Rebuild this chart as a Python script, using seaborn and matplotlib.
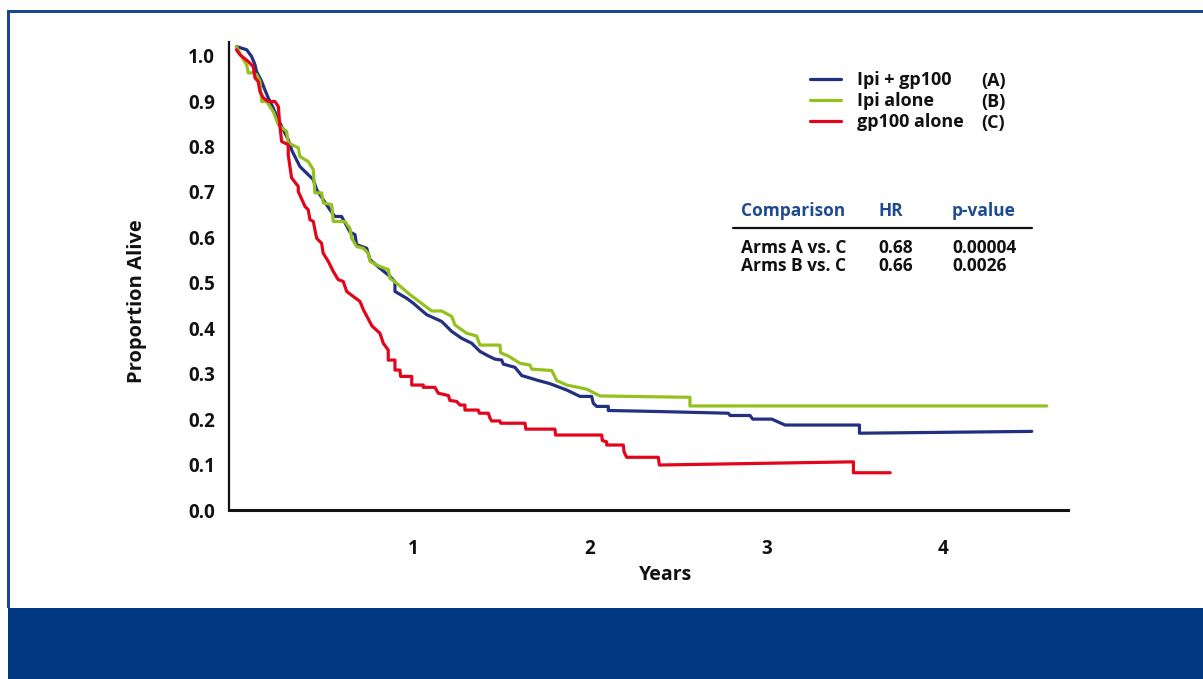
import matplotlib
matplotlib.use("Agg")
import matplotlib.pyplot as plt
import seaborn as sns
import pandas as pd
from matplotlib.patches import Rectangle
from matplotlib.lines import Line2D

# ---------------- data ----------------
arm_labels = ["Ipi + gp100", "Ipi alone", "gp100 alone"]
arm_codes = ["(A)", "(B)", "(C)"]
arm_colors = ["#23307F", "#95C11F", "#E3051B"]

ipi_gp100_years = [0.0, 0.058, 0.086, 0.105, 0.114, 0.143, 0.161, 0.180, 0.208, 0.237, 0.265, 0.293,
                   0.314, 0.359, 0.435, 0.454, 0.491, 0.529, 0.557, 0.595, 0.620, 0.642, 0.671, 0.680,
                   0.737, 0.756, 0.812, 0.869, 0.897, 0.897, 0.963, 1.001, 1.076, 1.161, 1.218, 1.274,
                   1.331, 1.378, 1.425, 1.463, 1.501, 1.510, 1.576, 1.614, 1.699, 1.774, 1.869, 1.944,
                   2.010, 2.019, 2.038, 2.104, 2.104, 2.357, 2.783, 2.793, 2.906, 2.921, 3.029, 3.104,
                   3.525, 3.525, 4.500]
ipi_gp100_surv = [1.020, 1.013, 0.998, 0.980, 0.965, 0.943, 0.925, 0.907, 0.885, 0.859, 0.837, 0.815,
                  0.791, 0.756, 0.727, 0.705, 0.683, 0.661, 0.646, 0.646, 0.628, 0.612, 0.606, 0.584,
                  0.576, 0.551, 0.532, 0.514, 0.502, 0.481, 0.466, 0.455, 0.430, 0.415, 0.393, 0.378,
                  0.367, 0.349, 0.339, 0.332, 0.330, 0.321, 0.314, 0.296, 0.286, 0.278, 0.264, 0.250,
                  0.250, 0.235, 0.228, 0.228, 0.219, 0.217, 0.213, 0.208, 0.208, 0.200, 0.200, 0.187,
                  0.187, 0.169, 0.173]

ipi_alone_years = [0.0, 0.029, 0.058, 0.067, 0.095, 0.114, 0.133, 0.143, 0.171, 0.208, 0.237, 0.284,
                   0.293, 0.350, 0.359, 0.406, 0.435, 0.444, 0.482, 0.491, 0.539, 0.548, 0.614, 0.642,
                   0.652, 0.680, 0.718, 0.746, 0.756, 0.812, 0.859, 0.869, 0.907, 0.982, 1.105, 1.161,
                   1.218, 1.237, 1.303, 1.359, 1.378, 1.491, 1.495, 1.538, 1.604, 1.661, 1.671, 1.784,
                   1.812, 1.869, 1.982, 2.057, 2.566, 2.566, 4.585]
ipi_alone_surv = [1.020, 0.998, 0.980, 0.962, 0.962, 0.958, 0.943, 0.899, 0.899, 0.877, 0.848, 0.833,
                  0.808, 0.797, 0.778, 0.767, 0.749, 0.698, 0.698, 0.676, 0.672, 0.635, 0.635, 0.620,
                  0.598, 0.580, 0.576, 0.565, 0.547, 0.536, 0.529, 0.510, 0.499, 0.474, 0.438, 0.438,
                  0.426, 0.407, 0.389, 0.383, 0.363, 0.363, 0.346, 0.339, 0.323, 0.319, 0.310, 0.307,
                  0.285, 0.275, 0.266, 0.251, 0.248, 0.229, 0.229]

gp100_years = [0.0, 0.020, 0.067, 0.095, 0.105, 0.123, 0.133, 0.152, 0.180, 0.218, 0.237, 0.246,
               0.256, 0.293, 0.293, 0.312, 0.350, 0.350, 0.388, 0.406, 0.416, 0.435, 0.444, 0.454,
               0.482, 0.491, 0.520, 0.548, 0.576, 0.604, 0.624, 0.661, 0.699, 0.718, 0.767, 0.812,
               0.831, 0.859, 0.859, 0.897, 0.897, 0.925, 0.929, 0.992, 0.992, 1.057, 1.057, 1.123,
               1.142, 1.199, 1.208, 1.246, 1.265, 1.293, 1.293, 1.368, 1.374, 1.425, 1.435, 1.444,
               1.491, 1.495, 1.633, 1.637, 1.802, 1.806, 2.067, 2.070, 2.095, 2.095, 2.189, 2.193,
               2.208, 2.387, 2.393, 3.491, 3.491, 3.699]
gp100_surv = [1.013, 1.002, 0.987, 0.976, 0.951, 0.943, 0.921, 0.907, 0.899, 0.899, 0.888, 0.844,
              0.811, 0.804, 0.782, 0.731, 0.712, 0.701, 0.668, 0.661, 0.639, 0.635, 0.617, 0.598,
              0.587, 0.565, 0.547, 0.525, 0.507, 0.503, 0.481, 0.470, 0.459, 0.441, 0.405, 0.389,
              0.367, 0.352, 0.330, 0.330, 0.308, 0.308, 0.294, 0.294, 0.275, 0.275, 0.270, 0.270,
              0.257, 0.252, 0.241, 0.239, 0.231, 0.231, 0.220, 0.220, 0.213, 0.213, 0.202, 0.196,
              0.196, 0.191, 0.191, 0.178, 0.178, 0.165, 0.165, 0.153, 0.150, 0.143, 0.143, 0.128,
              0.116, 0.116, 0.099, 0.106, 0.082, 0.082]

x_ticks = [1, 2, 3, 4]
y_ticks = [0.0, 0.1, 0.2, 0.3, 0.4, 0.5, 0.6, 0.7, 0.8, 0.9, 1.0]
x_label = "Years"
y_label = "Proportion Alive"

table_header = ["Comparison", "HR", "p-value"]
table_rows = [["Arms A vs. C", "0.68", "0.00004"],
              ["Arms B vs. C", "0.66", "0.0026"]]

# ---------------- build long-form frame ----------------
frames = []
for lab, xs, ys in zip(arm_labels,
                       [ipi_gp100_years, ipi_alone_years, gp100_years],
                       [ipi_gp100_surv, ipi_alone_surv, gp100_surv]):
    frames.append(pd.DataFrame({"Years": xs, "Proportion": ys, "Arm": lab}))
df = pd.concat(frames, ignore_index=True)

# ---------------- figure ----------------
sns.set_theme(style="white")
plt.rcParams["font.family"] = ["Open Sans", "DejaVu Sans"]
plt.rcParams["font.weight"] = "bold"

W, H = 1203, 679
fig = plt.figure(figsize=(W / 100, H / 100), dpi=100)
fig.patch.set_facecolor("white")

def fx(px):
    return px / W

def fy(py):
    return 1 - py / H

ax_left, ax_right, ax_top, ax_bot = 229, 1068, 42, 510
ax = fig.add_axes([fx(ax_left), fy(ax_bot), fx(ax_right - ax_left), (ax_bot - ax_top) / H])

sns.lineplot(data=df, x="Years", y="Proportion", hue="Arm", units="Arm",
             hue_order=arm_labels, palette=arm_colors, estimator=None, sort=False,
             linewidth=2.3, ax=ax, legend=True)

ax.set_xlim(-0.042, 4.705)
ax.set_ylim(0, 1.03)
ax.set_xticks(x_ticks)
ax.set_xticklabels([str(t) for t in x_ticks])
ax.set_yticks(y_ticks)
ax.set_yticklabels([f"{t:.1f}" for t in y_ticks])
for s in ["top", "right"]:
    ax.spines[s].set_visible(False)
ax.spines["left"].set_linewidth(1.6)
ax.spines["bottom"].set_linewidth(2.2)
ax.spines["left"].set_color("#111111")
ax.spines["bottom"].set_color("#111111")
ax.tick_params(axis="y", direction="out", length=7, width=1.8, color="#111111",
               labelsize=13.5, pad=3)
ax.tick_params(axis="x", direction="out", length=6, width=1.5, color="#111111",
               labelsize=13.5, pad=15)
for lbl in ax.get_xticklabels() + ax.get_yticklabels():
    lbl.set_fontweight("bold")
    lbl.set_color("#111111")
ax.set_xlabel("")
ax.set_ylabel("")
ax.patch.set_alpha(0)

fig.text(fx(666), fy(575), x_label, ha="center", va="center", fontsize=14,
         fontweight="bold", color="#111111")
fig.text(fx(137), fy(301), y_label, ha="center", va="center", rotation=90,
         fontsize=14.5, fontweight="bold", color="#111111")

# legend
handles, labels = ax.get_legend_handles_labels()
leg = ax.legend(handles, labels, loc="upper left", bbox_to_anchor=(fx(810), fy(71)),
                bbox_transform=fig.transFigure, frameon=False, fontsize=13,
                handlelength=1.7, handletextpad=0.9, labelspacing=0.17,
                borderaxespad=0, borderpad=0)
for t in leg.get_texts():
    t.set_fontweight("bold")
    t.set_color("#111111")
for h in leg.get_lines():
    h.set_linewidth(2.3)
for i, code in enumerate(arm_codes):
    fig.text(fx(981), fy(81 + i * 21), code, ha="left", va="center", fontsize=13,
             fontweight="bold", color="#111111")

# table
hdr_color = "#1D4A93"
col_x = [741, 878, 952]
for cx, txt in zip(col_x, table_header):
    fig.text(fx(cx), fy(211), txt, ha="left", va="center", fontsize=12.5,
             fontweight="bold", color=hdr_color)
fig.add_artist(Line2D([fx(733), fx(1032)], [fy(228), fy(228)], color="#111111",
                      linewidth=1.6, transform=fig.transFigure))
for r, row in enumerate(table_rows):
    for cx, txt in zip(col_x, row):
        fig.text(fx(cx), fy(248 + r * 18), txt, ha="left", va="center", fontsize=12.5,
                 fontweight="bold", color="#111111")

# frame and blue band
frame_blue = "#1B4690"
band_blue = "#003882"
fig.add_artist(Rectangle((fx(7), fy(608)), fx(2.5), (608 - 10) / H, transform=fig.transFigure,
                         facecolor=frame_blue, edgecolor="none"))
fig.add_artist(Rectangle((fx(7), fy(12.5)), 1, 2.5 / H, transform=fig.transFigure,
                         facecolor=frame_blue, edgecolor="none"))
fig.add_artist(Rectangle((fx(8), 0), 1, (679 - 608) / H, transform=fig.transFigure,
                         facecolor=band_blue, edgecolor="none"))

fig.savefig("out.png", dpi=100)
